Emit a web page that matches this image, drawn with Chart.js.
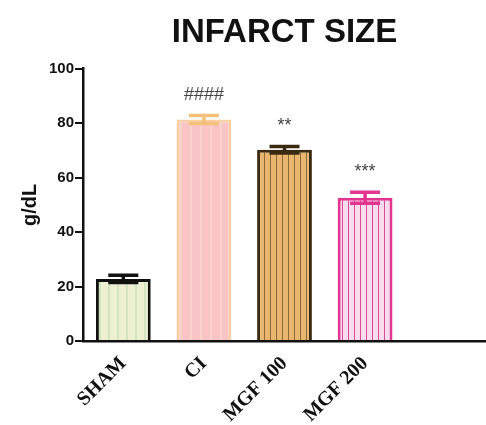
<!DOCTYPE html>
<html>
<head>
<meta charset="utf-8">
<script src="https://cdn.jsdelivr.net/npm/chart.js@4"></script>
<style>
  body { margin: 0; background: #fff; }
  #wrap { position: relative; width: 486px; height: 425px; }
</style>
</head>
<body>
<div id="wrap"><canvas id="chart"></canvas></div>
<script>
// data
const categories = ["SHAM", "CI", "MGF 100", "MGF 200"];
const means = [22.8, 81.3, 70.2, 52.6];
const errors = [1.3, 1.5, 1.2, 2.0];
const marks = ["", "####", "**", "***"];
const yTicks = [0, 20, 40, 60, 80, 100];

// striped fills like the prism bars
function stripes(bg, line, gap, w) {
    const c = document.createElement("canvas");
    c.width = gap;
    c.height = 4;
    const g = c.getContext("2d");
    g.fillStyle = bg;
    g.fillRect(0, 0, gap, 4);
    g.fillStyle = line;
    g.fillRect(0, 0, w, 4);
    return g.createPattern(c, "repeat");
}

const fills = [
    stripes("#eef0d2", "#d3e4c2", 9, 2),
    stripes("#f8c4c6", "#f9d2ca", 10, 2),
    stripes("#e9b66f", "#8c6a38", 6, 1),
    stripes("#fadcef", "#d84a93", 6, 1),
];
const borders = ["#111111", "#f9cfa6", "#3b2a12", "#e2358f"];
const errColors = ["#111111", "#f5c07a", "#3b2a12", "#e2358f"];

// empty fifth slot so the axis runs on to the right edge
const labels = [...categories, ""];

const errorBars = {
    id: "errorBars",
    afterDatasetsDraw(chart) {
        const ctx = chart.ctx;
        const y = chart.scales.y;
        const meta = chart.getDatasetMeta(0);
        ctx.save();
        meta.data.forEach((bar, i) => {
            if (i >= means.length) return;
            const x = bar.x;
            const top = y.getPixelForValue(means[i] + errors[i]);
            const bot = y.getPixelForValue(means[i] - errors[i]);
            ctx.strokeStyle = errColors[i];
            ctx.lineWidth = 3.5;
            ctx.beginPath();
            ctx.moveTo(x, top); ctx.lineTo(x, bot);
            ctx.moveTo(x - 15, top); ctx.lineTo(x + 15, top);
            ctx.moveTo(x - 15, bot); ctx.lineTo(x + 15, bot);
            ctx.stroke();
            if (marks[i]) {
                ctx.fillStyle = "#444";
                ctx.font = "18px 'Liberation Sans', Arial";
                ctx.textAlign = "center";
                ctx.textBaseline = "middle";
                ctx.fillText(marks[i], x, top - 20);
            }
        });
        ctx.restore();
    }
};

new Chart(document.getElementById("chart"), {
    type: "bar",
    data: {
        labels: labels,
        datasets: [{
            data: means,
            backgroundColor: fills,
            borderColor: borders,
            borderWidth: 3,
            categoryPercentage: 1,
            barPercentage: 0.68,
        }],
    },
    options: {
        responsive: true,
        maintainAspectRatio: false,
        animation: false,
        layout: { padding: { left: 8, right: 0, top: 0, bottom: 0 } },
        plugins: {
            legend: { display: false },
            tooltip: { enabled: false },
            title: {
                display: true,
                text: "INFARCT SIZE",
                fullSize: false,
                color: "#111",
                font: { family: "'Liberation Sans', Arial", size: 33, weight: "bold" },
                padding: { top: 13, bottom: 16 },
            },
        },
        scales: {
            x: {
                grid: { drawOnChartArea: false, drawTicks: false },
                border: { color: "#111", width: 2.5 },
                ticks: {
                    color: "#111",
                    autoSkip: false,
                    maxRotation: 45,
                    minRotation: 45,
                    padding: 11,
                    font: { family: "'Liberation Serif', 'Times New Roman'", size: 20, weight: "bold" },
                },
                afterFit(s) { s.height = 84; },
            },
            y: {
                min: 0,
                max: 100,
                afterBuildTicks(s) { s.ticks = yTicks.map(v => ({ value: v })); },
                grid: { drawOnChartArea: false, tickLength: 8, color: "#111", lineWidth: 2 },
                border: { color: "#111", width: 2.5 },
                ticks: {
                    color: "#111",
                    padding: 1,
                    font: { family: "'Liberation Sans', Arial", size: 15, weight: "bold" },
                },
                title: {
                    display: true,
                    text: "g/dL",
                    color: "#111",
                    font: { family: "'Liberation Sans', Arial", size: 20, weight: "bold" },
                    padding: { top: 10, bottom: 0 },
                },
                afterFit(s) { s.width = 75; },
            },
        },
    },
    plugins: [errorBars],
});
</script>
</body>
</html>
